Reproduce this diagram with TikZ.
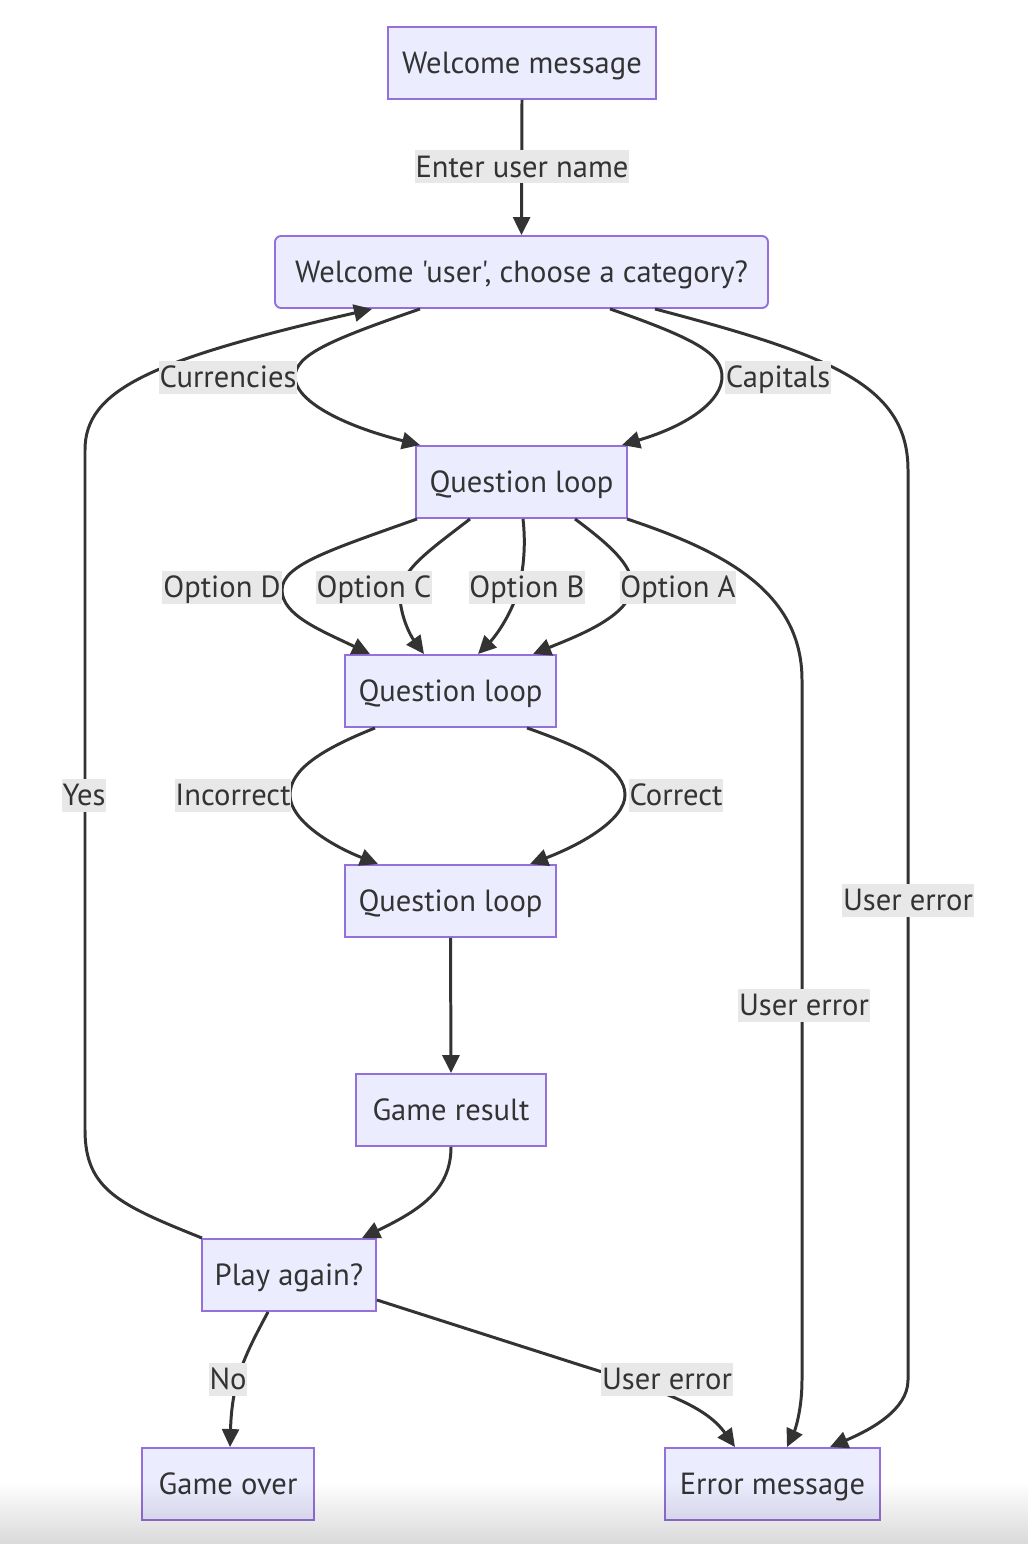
\documentclass[tikz,border=0pt]{standalone}
\usepackage{fontspec}
\setmainfont{PT Sans}[Ligatures=TeXOff]
\usetikzlibrary{arrows.meta,fadings}
\newdimen\pxu \pxu=0.02cm
\definecolor{nodefill}{HTML}{ECECFF}
\definecolor{nodeline}{HTML}{9370DB}
\definecolor{edgecol}{HTML}{333333}
\definecolor{lblbg}{HTML}{E8E8E8}
\definecolor{txt}{HTML}{333333}
\begin{document}
\begin{tikzpicture}[x=0.02cm,y=-0.02cm,
  box/.style={draw=nodeline, fill=nodefill, line width=1.1pt, minimum height=72\pxu, inner sep=0pt, text=txt, text height=12.2pt, text depth=0pt, font=\fontsize{17.4}{21}\selectfont},
  lbl/.style={fill=lblbg, text=txt, inner xsep=0.5pt, inner ysep=0pt, minimum height=33\pxu, text height=12.2pt, text depth=0pt, font=\fontsize{17.4}{21}\selectfont},
  edge/.style={draw=edgecol, line width=1.7pt, -{Triangle[length=0.36cm,width=0.34cm]}}
]
\useasboundingbox (0,0) rectangle (1028,1544);
\fill[white] (0,0) rectangle (1028,1544);

\node[box, minimum width=268\pxu] (wm) at (522,63) {Welcome message};
\node[box, minimum width=493\pxu, rounded corners=6\pxu] (wu) at (521.5,272) {Welcome 'user', choose a category?};
\node[box, minimum width=211\pxu] (q1) at (521.5,482) {Question loop};
\node[box, minimum width=211\pxu] (q2) at (450.5,691) {Question loop};
\node[box, minimum width=211\pxu] (q3) at (450.5,901) {Question loop};
\node[box, minimum width=190\pxu] (gr) at (451,1110) {Game result};
\node[box, minimum width=174\pxu] (pa) at (289,1275) {Play again?};
\node[box, minimum width=172\pxu] (go) at (228,1484) {Game over};
\node[box, minimum width=215\pxu] (em) at (772.5,1484) {Error message};

% edges
\draw[edge] (wm.south) -- (wu.north);
\draw[edge] ([xshift=-101.5\pxu]wu.south) .. controls (330,340) and (295,355) .. (295,377) .. controls (295,400) and (340,425) .. ([xshift=-101.5\pxu]q1.north);
\draw[edge] ([xshift=88.5\pxu]wu.south) .. controls (700,340) and (722,355) .. (722,377) .. controls (722,400) and (690,425) .. ([xshift=100.5\pxu]q1.north);
\draw[edge] ([xshift=133.5\pxu]wu.south) .. controls (830,355) and (908,385) .. (908,470) -- (908,1380) .. controls (908,1410) and (870,1430) .. ([xshift=57.5\pxu]em.north);
\draw[edge] ([xshift=-87\pxu]pa.north) .. controls (120,1205) and (85,1190) .. (85,1130) -- (85,450) .. controls (85,390) and (150,360) .. ([xshift=-149.5\pxu]wu.south);

\draw[edge] ([xshift=-104.5\pxu]q1.south) .. controls (330,550) and (282,565) .. (282,590) .. controls (282,615) and (320,630) .. ([xshift=-80.5\pxu]q2.north);
\draw[edge] ([xshift=-51.5\pxu]q1.south) .. controls (430,550) and (400,570) .. (400,595) .. controls (400,615) and (410,635) .. ([xshift=-26.5\pxu]q2.north);
\draw[edge] ([xshift=1.5\pxu]q1.south) .. controls (526,545) and (524,575) .. (515,600) .. controls (505,625) and (492,640) .. ([xshift=27.5\pxu]q2.north);
\draw[edge] ([xshift=53.5\pxu]q1.south) .. controls (610,545) and (632,565) .. (632,585) .. controls (632,615) and (580,635) .. ([xshift=82.5\pxu]q2.north);
\draw[edge] ([xshift=105.5\pxu]q1.south) .. controls (720,550) and (802,590) .. (802,680) -- (802,1380) .. controls (802,1410) and (795,1430) .. ([xshift=14.5\pxu]em.north);

\draw[edge] ([xshift=-75.5\pxu]q2.south) .. controls (320,750) and (290,770) .. (290,795) .. controls (290,820) and (330,845) .. ([xshift=-72.5\pxu]q3.north);
\draw[edge] ([xshift=76.5\pxu]q2.south) .. controls (590,750) and (625,770) .. (625,795) .. controls (625,820) and (580,845) .. ([xshift=79.5\pxu]q3.north);

\draw[edge] (q3.south) -- (gr.north);
\draw[edge] (gr.south) .. controls (451,1190) and (420,1210) .. ([xshift=73\pxu]pa.north);
\draw[edge] ([xshift=-21\pxu]pa.south) .. controls (245,1355) and (232,1380) .. ([xshift=2\pxu]go.north);
\draw[edge] ([yshift=-25\pxu]pa.east) -- (580,1365) .. controls (660,1390) and (705,1405) .. ([xshift=-37.5\pxu]em.north);

% labels
\node[lbl] (l1) at (522,167) {Enter user name};
\node[lbl] (l2) at (228,377) {Currencies};
\node[lbl] (l3) at (778,377) {Capitals};
\node[lbl] (l4) at (908,900) {User error};
\node[lbl] (l5) at (84,795) {Yes};
\node[lbl] (l6) at (222,587) {Option D};
\node[lbl] (l7) at (374,587) {Option C};
\node[lbl] (l8) at (527,587) {Option B};
\node[lbl] (l9) at (678,587) {Option A};
\node[lbl] (l10) at (804,1005) {User error};
\node[lbl] (l11) at (233,795) {Incorrect};
\node[lbl] (l12) at (676,795) {Correct};
\node[lbl] (l13) at (228,1379) {No};
\node[lbl] (l14) at (667,1379) {User error};

% bottom shade
\fill[black, path fading=north, opacity=0.15] (0,1482) rectangle (1028,1544);
\end{tikzpicture}
\end{document}
